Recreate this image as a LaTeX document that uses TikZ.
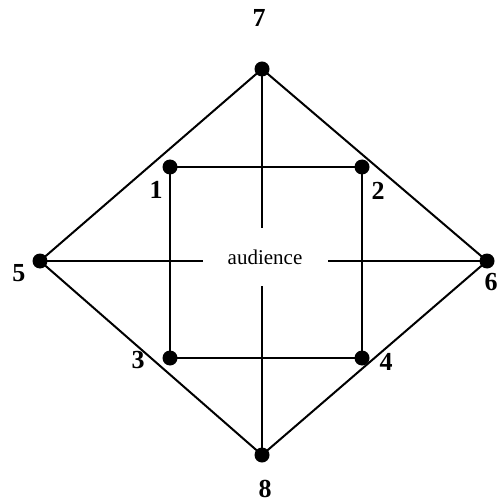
\documentclass[tikz,border=0pt]{standalone}
\usepackage{fontspec}
\setmainfont{Liberation Serif}
\usetikzlibrary{positioning}

\begin{document}
\begin{tikzpicture}[
  x=1pt, y=-1pt,
  vertex/.style={circle, fill=black, inner sep=0pt, minimum size=15pt},
  num/.style={font=\fontsize{26}{26}\selectfont\bfseries, inner sep=0pt},
  centre/.style={fill=white, inner sep=0pt, minimum width=125pt, minimum height=58pt, font=\fontsize{21}{21}\selectfont},
  edge/.style={line width=2pt}
]
\useasboundingbox (0,0) rectangle (499,502);

% vertices
\node[vertex] (v7) at (262,69) {};
\node[vertex] (v5) at (40,261) {};
\node[vertex] (v6) at (487,261) {};
\node[vertex] (v8) at (262,455) {};
\node[vertex] (v1) at (170,167) {};
\node[vertex] (v2) at (362,167) {};
\node[vertex] (v3) at (170,358) {};
\node[vertex] (v4) at (362,358) {};

% labels
\node[num] (l7) at (259,18) {7};
\node[num] (l8) at (265,489) {8};
\node[num] (l5) at (19,273) {5};
\node[num] (l6) at (491,282) {6};
\node[num] (l1) at (156,190) {1};
\node[num] (l2) at (378,191) {2};
\node[num] (l3) at (138,360) {3};
\node[num] (l4) at (386,362) {4};

% Edges
\draw[edge] (v5.center) -- (v7.center) -- (v6.center) -- (v8.center) -- cycle;
\draw[edge] (v1.center) -- (v2.center) -- (v4.center) -- (v3.center) -- cycle;
\draw[edge] (v7.center) -- (v8.center);
\draw[edge] (v5.center) -- (v6.center);

\node[centre] (aud) at (265,257) {audience};

\end{tikzpicture}
\end{document}
